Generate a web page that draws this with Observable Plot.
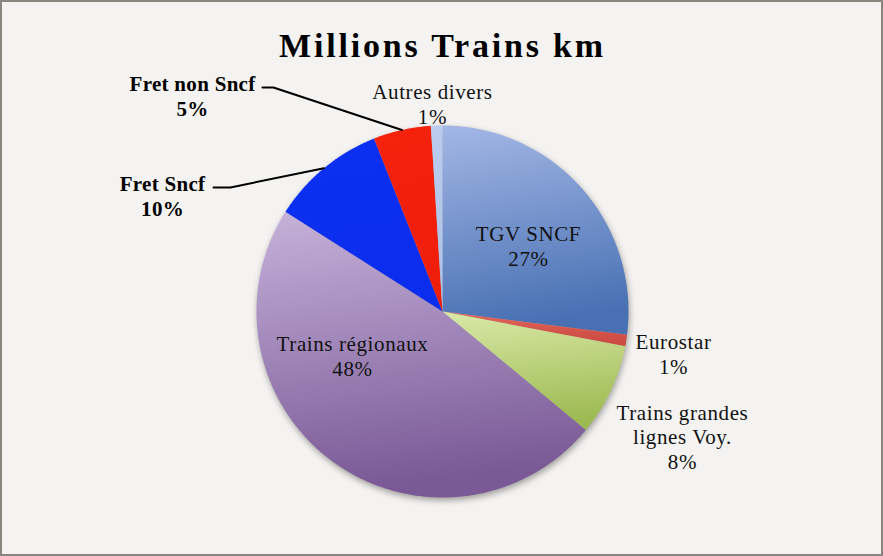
<!DOCTYPE html>
<html><head><meta charset="utf-8">
<script src="https://cdn.jsdelivr.net/npm/d3@7"></script>
<script src="https://cdn.jsdelivr.net/npm/@observablehq/plot@0.6"></script>
<style>
html,body{margin:0;padding:0;background:#f4f3f1;}
#wrap{position:relative;width:883px;height:556px;overflow:hidden;background:#f4f3f1;}
#wrap svg{position:absolute;left:0;top:0;}
#frame{position:absolute;left:0;top:0;width:883px;height:556px;box-sizing:border-box;border:2px solid #8b8580;pointer-events:none;}
</style></head><body>
<div id="wrap"><div id="frame"></div></div>
<script>
// ---- data ----
const title = "Millions Trains km";
const categories = ["TGV SNCF", "Eurostar", "Trains grandes lignes Voy.", "Trains régionaux", "Fret Sncf", "Fret non Sncf", "Autres divers"];
const shares = [27, 1, 8, 48, 10, 5, 1];
const labelNames = ["TGV SNCF", "Eurostar", "Trains grandes\nlignes Voy.", "Trains régionaux", "Fret Sncf", "Fret non Sncf", "Autres divers"];

// ---- styling / layout ----
const colorTop = ["#a3b7e5", "#e0685c", "#dae9a8", "#c6b2da", "#0b30f2", "#f5220c", "#bccdee"];
const colorBottom = ["#4870b3", "#cc4a42", "#9dba52", "#7a5996", "#0b2ded", "#ef1e0a", "#aec2ea"];
const boldLabel = [false, false, false, false, true, true, false];
// label centers in unit-radius coordinates
const labelPos = [[0.462, 0.355], [1.242, -0.226], [1.29, -0.672], [-0.484, -0.237], [-1.505, 0.624], [-1.344, 1.161], [-0.054, 1.118]];
// leader lines: start and bend, end computed at slice mid-angle on the rim
const leaders = [
  {i: 4, start: [-1.231, 0.667], bend: [-1.140, 0.667]},
  {i: 5, start: [-0.968, 1.204], bend: [-0.909, 1.204]}
];

const total = d3.sum(shares);
let acc = 0;
const slices = shares.map((v, i) => {
  const a0 = acc / total * 2 * Math.PI; acc += v;
  const a1 = acc / total * 2 * Math.PI;
  return {i, a0, a1, mid: (a0 + a1) / 2};
});
const piePts = [];
slices.forEach(s => {
  piePts.push({k: s.i, x: 0, y: 0, f: `url(#grad${s.i})`});
  const n = Math.max(2, Math.ceil((s.a1 - s.a0) / (Math.PI / 360)));
  for (let j = 0; j <= n; j++) {
    const a = s.a0 + (s.a1 - s.a0) * j / n;
    piePts.push({k: s.i, x: Math.sin(a), y: Math.cos(a), f: `url(#grad${s.i})`});
  }
});
const labels = categories.map((c, i) => ({
  text: labelNames[i] + "\n" + shares[i] + "%",
  x: labelPos[i][0], y: labelPos[i][1], bold: boldLabel[i]
}));
const leaderPts = [];
leaders.forEach(l => {
  const m = slices[l.i].mid;
  leaderPts.push({k: l.i, x: l.start[0], y: l.start[1]});
  leaderPts.push({k: l.i, x: l.bend[0], y: l.bend[1]});
  leaderPts.push({k: l.i, x: Math.sin(m), y: Math.cos(m)});
});

const defs = () => {
  const d = d3.create("svg:defs");
  slices.forEach(s => {
    const g = d.append("linearGradient").attr("id", `grad${s.i}`)
      .attr("x1", 0).attr("y1", 0).attr("x2", 0.15).attr("y2", 1);
    g.append("stop").attr("offset", "0%").attr("stop-color", colorTop[s.i]);
    g.append("stop").attr("offset", "100%").attr("stop-color", colorBottom[s.i]);
  });
  return d.node();
};

const font = "'Liberation Serif', 'Times New Roman', serif";
const chart = Plot.plot({
  width: 883, height: 556,
  marginLeft: 256, marginRight: 255, marginTop: 125, marginBottom: 59,
  x: {domain: [-1, 1]}, y: {domain: [-1, 1]},
  axis: null,
  color: {type: "identity"},
  style: {background: "transparent", fontFamily: font, color: "#000", overflow: "visible"},
  marks: [
    defs,
    Plot.line(piePts, {x: "x", y: "y", z: "k", fill: "f", stroke: "none", curve: "linear"}),
    Plot.line(leaderPts, {x: "x", y: "y", z: "k", stroke: "#000", strokeWidth: 2}),
    Plot.text(labels.filter(d => !d.bold), {x: "x", y: "y", text: "text", fontSize: 21, lineHeight: 1.19, fill: "#111", fontFamily: font}),
    Plot.text(labels.filter(d => d.bold), {x: "x", y: "y", text: "text", fontSize: 21, lineHeight: 1.19, fontWeight: "bold", fill: "#000", fontFamily: font}),
    Plot.text([title], {text: d => d, frameAnchor: "top", lineAnchor: "middle", dy: -79, fontSize: 34, fontWeight: "bold", fill: "#000", fontFamily: font})
  ]
});
const pieG = chart.querySelector('g[aria-label="line"]');
if (pieG) pieG.style.filter = "drop-shadow(1px 3px 3px rgba(0,0,0,0.35))";
const textGs = chart.querySelectorAll('g[aria-label="text"]');
const spacing = ["0.6px", "0.3px", "2.8px"];
textGs.forEach((g, i) => { g.style.letterSpacing = spacing[i]; });
document.getElementById("wrap").insertBefore(chart, document.getElementById("frame"));
</script>
</body></html>
